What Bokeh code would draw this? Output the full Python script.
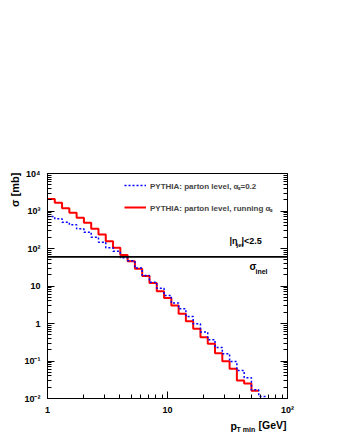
import math
from bokeh.plotting import figure
from bokeh.models import (Range1d, FixedTicker, LogAxis, CustomJSTickFormatter, Label,
                          Span, Legend, LegendItem)
from bokeh.embed import file_html
from bokeh.resources import INLINE

# ---- data -------------------------------------------------------------
pt_edges = [1.0, 1.15, 1.3225, 1.5209, 1.749, 2.0114, 2.3131, 2.66, 3.059, 3.5179,
            4.0456, 4.6524, 5.3503, 6.1528, 7.0757, 8.1371, 9.3576, 10.761, 12.376,
            14.232, 16.367, 18.822, 21.645, 24.892, 28.625, 32.919, 37.857, 43.535,
            50.066, 57.576, 66.212]

sigma_running = [2100, 1650, 1190, 900, 660, 485, 335, 236, 155, 104, 67, 46, 29, 18.5,
                 12, 7.3, 4.8, 3.0, 1.82, 1.15, 0.72, 0.43, 0.29, 0.16, 0.099, 0.062,
                 0.030, 0.025, 0.016]

sigma_fixed = [710, 620, 500, 430, 335, 272, 200, 147, 105, 85, 57, 47, 30, 19, 12.6,
               8.7, 5.6, 3.5, 2.47, 1.54, 0.98, 0.59, 0.37, 0.23, 0.156, 0.097, 0.056,
               0.036, 0.017, 0.0113]

sigma_inel = 60.0

label_fixed = "PYTHIA: parton level, \u03b1\u209b=0.2"
label_running = "PYTHIA: parton level, running \u03b1\u209b"

x_lo, x_hi = 1, 100
y_lo, y_hi = 1e-2, 1e4
x_major = [1, 10, 100]
x_minor = [m * d for d in (1, 10) for m in range(2, 10)]
y_major = [1e-2, 1e-1, 1, 10, 100, 1e3, 1e4]
y_minor = [m * d for d in (1e-2, 1e-1, 1, 10, 100, 1e3) for m in range(2, 10)]

# ---- figure ------------------------------------------------------------
FONT = "Liberation Sans"
FL, FT, FR, FB = 47, 173, 287, 398  # frame edges in page pixels
W, H = 330, 432

p = figure(width=W, height=H, x_axis_type="log", y_axis_type="log",
           x_range=Range1d(x_lo, x_hi), y_range=Range1d(y_lo, y_hi),
           output_backend="svg", toolbar_location=None,
           min_border_left=FL, min_border_right=W - FR, min_border_top=FT,
           min_border_bottom=H - FB)
p.grid.visible = False
p.outline_line_color = "black"
p.outline_line_width = 1
p.background_fill_color = "white"
p.border_fill_color = "white"

fmt = CustomJSTickFormatter(code="""
const e = Math.round(Math.log10(tick));
if (e == 0) return "1";
if (e == 1) return "10";
const m = {"-":"\u207b","0":"\u2070","1":"\u00b9","2":"\u00b2","3":"\u00b3","4":"\u2074"};
return "10" + String(e).split("").map(c => m[c]).join("");
""")

def style_axis(ax, ticks, minor):
    ax.ticker = FixedTicker(ticks=ticks, minor_ticks=minor)
    ax.axis_line_color = "black"
    ax.major_tick_in = 7
    ax.major_tick_out = 0
    ax.minor_tick_in = 4
    ax.minor_tick_out = 0
    ax.major_tick_line_color = "black"
    ax.minor_tick_line_color = "black"
    ax.major_label_text_font = FONT
    ax.major_label_text_font_style = "bold"
    ax.major_label_text_font_size = "9px"
    ax.major_label_text_color = "black"

style_axis(p.xaxis[0], x_major, x_minor)
style_axis(p.yaxis[0], y_major, y_minor)
p.xaxis[0].formatter = fmt
p.yaxis[0].formatter = fmt
p.xaxis[0].major_label_standoff = 6
p.yaxis[0].major_label_standoff = 7

right = LogAxis()
style_axis(right, y_major, y_minor)
right.formatter = CustomJSTickFormatter(code="return '';")
p.add_layout(right, "right")

# ---- histograms --------------------------------------------------------
def step_xy(edges, vals):
    n = len(vals)
    return list(edges[:n + 1]), list(vals) + [vals[-1]]

xr, yr = step_xy(pt_edges, sigma_running)
xf, yf = step_xy(pt_edges, sigma_fixed)

r_run = p.step(xr, yr, mode="after", line_color="#ff0000", line_width=2)
r_fix = p.step(xf, yf, mode="after", line_color="#0000ff", line_width=1.5,
               line_dash="2 2")

p.add_layout(Span(location=sigma_inel, dimension="width", line_color="black",
                  line_width=1.8))

# ---- legend ------------------------------------------------------------
legend = Legend(items=[LegendItem(label=label_fixed, renderers=[r_fix]),
                       LegendItem(label=label_running, renderers=[r_run])],
                location=(124 - FL, FB - 213), orientation="vertical",
                border_line_color=None, background_fill_alpha=0,
                label_text_font=FONT, label_text_font_style="bold",
                label_text_font_size="8px", glyph_width=22, glyph_height=12,
                label_height=12, label_standoff=4, spacing=10, padding=0, margin=0)
p.add_layout(legend, "center")

# ---- texts -------------------------------------------------------------
def lab(px, py, text, size, align="left", baseline="middle", angle=0.0):
    """Text inside the frame, placed in frame-relative pixels."""
    p.add_layout(Label(x=px - FL, y=FB - py, x_units="screen", y_units="screen",
                       text=text, text_font=FONT, text_font_style="bold",
                       text_font_size=size, text_align=align,
                       text_baseline=baseline, angle=angle, text_color="black"))

def outer(px, py, text, size, align="left", baseline="middle", angle=0.0):
    """Text outside the frame: anchored on the frame's bottom-left corner,
    kept in a side panel so that it is not clipped."""
    p.add_layout(Label(x=x_lo, y=y_lo, x_offset=px - FL, y_offset=FB - py,
                       text=text, text_font=FONT, text_font_style="bold",
                       text_font_size=size, text_align=align,
                       text_baseline=baseline, angle=angle, text_color="black"),
                 "above")

# y title
outer(14, 172, "\u03c3 [mb]", "11px", align="right", angle=math.pi / 2)
# x title
outer(230, 425, "p", "10.5px")
outer(236, 429, "T min", "7px")
outer(258, 424, "[GeV]", "10.5px")
# |eta_jet| < 2.5
lab(229, 240, "|\u03b7", "9px")
lab(236, 244, "jet", "6px")
lab(241, 240, "|<2.5", "9px")
# sigma_inel
lab(249, 266, "\u03c3", "10px")
lab(255, 271, "inel", "7px")

open("out.html", "w").write(file_html(p, INLINE))
